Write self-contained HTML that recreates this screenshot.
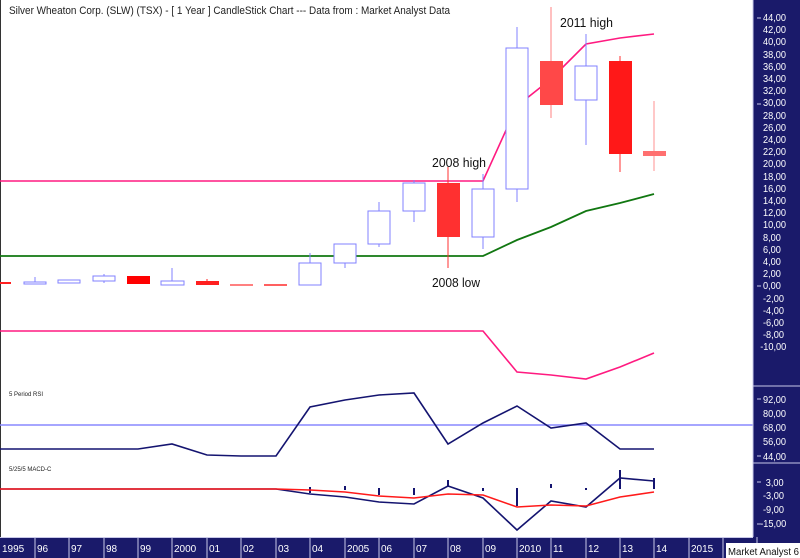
<!DOCTYPE html>
<html><head><meta charset="utf-8"><style>
html,body{margin:0;padding:0;background:#fff;}
svg{display:block;font-family:"Liberation Sans",Arial,sans-serif;}
</style></head><body>
<svg width="800" height="558" viewBox="0 0 800 558" xmlns="http://www.w3.org/2000/svg">
<rect x="0" y="0" width="800" height="558" fill="#fff"/>
<line x1="0.5" y1="0" x2="0.5" y2="537" stroke="#333" stroke-width="1"/>
<text x="9" y="14" font-size="11" fill="#222" textLength="441" lengthAdjust="spacingAndGlyphs">Silver Wheaton Corp. (SLW) (TSX) -  [ 1 Year ] CandleStick Chart --- Data from : Market Analyst Data</text>

<polyline points="0,181 483,181 517,106 551,79 586,44 620,38 654,34" fill="none" stroke="#ff1a80" stroke-width="1.6"/>
<polyline points="0,256 483,256 517,240 551,227 586,211 620,203 654,194" fill="none" stroke="#117711" stroke-width="1.8"/>

<g stroke-width="1">
<rect x="0" y="282" width="11" height="2" fill="#ff2020"/>
<line x1="35" y1="277" x2="35" y2="284" stroke="#8080ff"/><rect x="24" y="282" width="22" height="2" fill="#fff" stroke="#8080ff"/>
<rect x="58" y="280" width="22" height="3" fill="#fff" stroke="#8080ff"/>
<line x1="104" y1="274" x2="104" y2="283" stroke="#8080ff"/><rect x="93" y="276" width="22" height="5" fill="#fff" stroke="#8080ff"/>
<rect x="127" y="276" width="23" height="8" fill="#ff0000"/>
<line x1="172" y1="268" x2="172" y2="283" stroke="#8080ff"/><rect x="161" y="281" width="23" height="4" fill="#fff" stroke="#8080ff"/>
<line x1="207" y1="279" x2="207" y2="284" stroke="#ff2020"/><rect x="196" y="281" width="23" height="4" fill="#ff2020"/>
<rect x="230" y="284" width="23" height="2" fill="#ff8080"/>
<rect x="264" y="284" width="23" height="2" fill="#ff6060"/>
<line x1="310" y1="253" x2="310" y2="263" stroke="#8080ff"/><rect x="299" y="263" width="22" height="22" fill="#fff" stroke="#8080ff"/>
<line x1="345" y1="263" x2="345" y2="268" stroke="#8080ff"/><rect x="334" y="244" width="22" height="19" fill="#fff" stroke="#8080ff"/>
<line x1="379" y1="202" x2="379" y2="247" stroke="#8080ff"/><rect x="368" y="211" width="22" height="33" fill="#fff" stroke="#8080ff"/>
<line x1="414" y1="180" x2="414" y2="222" stroke="#8080ff"/><rect x="403" y="183" width="22" height="28" fill="#fff" stroke="#8080ff"/>
<line x1="448" y1="167" x2="448" y2="268" stroke="#ff3030"/><rect x="437" y="183" width="23" height="54" fill="#ff3030"/>
<line x1="483" y1="174" x2="483" y2="249" stroke="#8080ff"/><rect x="472" y="189" width="22" height="48" fill="#fff" stroke="#8080ff"/>
<line x1="517" y1="27" x2="517" y2="202" stroke="#8080ff"/><rect x="506" y="48" width="22" height="141" fill="#fff" stroke="#8080ff"/>
<line x1="551" y1="7" x2="551" y2="118" stroke="#ff8080"/><rect x="540" y="61" width="23" height="44" fill="#ff4848"/>
<line x1="586" y1="34" x2="586" y2="145" stroke="#8080ff"/><rect x="575" y="66" width="22" height="34" fill="#fff" stroke="#8080ff"/>
<line x1="620" y1="56" x2="620" y2="172" stroke="#ff3030"/><rect x="609" y="61" width="23" height="93" fill="#ff1818"/>
<line x1="654" y1="101" x2="654" y2="171" stroke="#ff9090"/><rect x="643" y="151" width="23" height="5" fill="#ff7070"/>
</g>

<text x="432" y="167" font-size="13" fill="#111" textLength="54" lengthAdjust="spacingAndGlyphs">2008 high</text>
<text x="432" y="287" font-size="13" fill="#111" textLength="48" lengthAdjust="spacingAndGlyphs">2008 low</text>
<text x="560" y="27" font-size="13" fill="#111" textLength="53" lengthAdjust="spacingAndGlyphs">2011 high</text>

<polyline points="0,331 483,331 517,372 551,375 586,379 620,367 654,353" fill="none" stroke="#ff1a80" stroke-width="1.6"/>

<text x="9" y="396" font-size="6" fill="#222">5 Period RSI</text>
<line x1="0" y1="425" x2="753" y2="425" stroke="#8888ff" stroke-width="1.5"/>
<polyline points="0,449 138,449 172,444 207,455 241,456 276,456 310,407 345,400 379,395 414,393 448,444 483,423 517,406 551,428 586,423 620,449 654,449" fill="none" stroke="#141470" stroke-width="1.6"/>

<text x="9" y="471" font-size="6" fill="#222">5/25/5 MACD-C</text>
<g stroke="#141470" stroke-width="2">
<line x1="310" y1="487" x2="310" y2="493"/>
<line x1="345" y1="486" x2="345" y2="490"/>
<line x1="379" y1="488" x2="379" y2="495"/>
<line x1="414" y1="488" x2="414" y2="495"/>
<line x1="448" y1="480" x2="448" y2="487"/>
<line x1="483" y1="488" x2="483" y2="491"/>
<line x1="517" y1="488" x2="517" y2="506"/>
<line x1="551" y1="484" x2="551" y2="488"/>
<line x1="586" y1="488" x2="586" y2="490"/>
<line x1="620" y1="470" x2="620" y2="489"/>
<line x1="654" y1="478" x2="654" y2="489"/>
</g>
<polyline points="0,489 276,489 310,494 345,497 379,502 414,504 448,486 483,498 517,530 551,501 586,507 620,478 654,481" fill="none" stroke="#141470" stroke-width="1.6"/>
<polyline points="0,489 276,489 310,490 345,492 379,496 414,498 448,494 483,495 517,507 551,505 586,506 620,497 654,492" fill="none" stroke="#ff1a1a" stroke-width="1.6"/>

<rect x="753" y="0" width="47" height="558" fill="#1a1a6a"/>
<g stroke="#c8c8e8" stroke-width="1">
<line x1="753" y1="386" x2="800" y2="386"/>
<line x1="753" y1="463" x2="800" y2="463"/>
<line x1="753" y1="0" x2="753" y2="537"/>
</g>
<g font-size="10" fill="#fff" stroke="none" transform="translate(763,0) scale(0.92,1) translate(-763,0)">
<text x="763" y="21">44,00</text><text x="763" y="33">42,00</text><text x="763" y="45">40,00</text>
<text x="763" y="58">38,00</text><text x="763" y="70">36,00</text><text x="763" y="82">34,00</text>
<text x="763" y="94">32,00</text><text x="763" y="106">30,00</text><text x="763" y="119">28,00</text>
<text x="763" y="131">26,00</text><text x="763" y="143">24,00</text><text x="763" y="155">22,00</text>
<text x="763" y="167">20,00</text><text x="763" y="180">18,00</text><text x="763" y="192">16,00</text>
<text x="763" y="204">14,00</text><text x="763" y="216">12,00</text><text x="763" y="228">10,00</text>
<text x="763" y="241">8,00</text><text x="763" y="253">6,00</text><text x="763" y="265">4,00</text>
<text x="763" y="277">2,00</text><text x="763" y="289">0,00</text><text x="763" y="302">-2,00</text>
<text x="763" y="314">-4,00</text><text x="763" y="326">-6,00</text><text x="763" y="338">-8,00</text>
<text x="760" y="350">-10,00</text>
<text x="763" y="403">92,00</text><text x="763" y="417">80,00</text><text x="763" y="431">68,00</text>
<text x="763" y="445">56,00</text><text x="763" y="460">44,00</text>
<text x="766" y="486">3,00</text><text x="763" y="499">-3,00</text><text x="763" y="513">-9,00</text>
<text x="760" y="527">-15,00</text>
</g>
<g stroke="#c8c8e8">
<line x1="757" y1="18" x2="761" y2="18"/><line x1="757" y1="104" x2="761" y2="104"/>
<line x1="757" y1="286" x2="761" y2="286"/><line x1="757" y1="399" x2="761" y2="399"/>
<line x1="757" y1="456" x2="761" y2="456"/><line x1="757" y1="482" x2="761" y2="482"/>
<line x1="757" y1="524" x2="761" y2="524"/>
</g>

<rect x="0" y="537" width="800" height="21" fill="#1a1a6a"/>
<line x1="0" y1="537.5" x2="753" y2="537.5" stroke="#c8c8e8"/>
<g stroke="#c8c8e8">
<line x1="35" y1="537" x2="35" y2="558"/><line x1="69" y1="537" x2="69" y2="558"/><line x1="104" y1="537" x2="104" y2="558"/>
<line x1="138" y1="537" x2="138" y2="558"/><line x1="172" y1="537" x2="172" y2="558"/><line x1="207" y1="537" x2="207" y2="558"/>
<line x1="241" y1="537" x2="241" y2="558"/><line x1="276" y1="537" x2="276" y2="558"/><line x1="310" y1="537" x2="310" y2="558"/>
<line x1="345" y1="537" x2="345" y2="558"/><line x1="379" y1="537" x2="379" y2="558"/><line x1="414" y1="537" x2="414" y2="558"/>
<line x1="448" y1="537" x2="448" y2="558"/><line x1="483" y1="537" x2="483" y2="558"/><line x1="517" y1="537" x2="517" y2="558"/>
<line x1="551" y1="537" x2="551" y2="558"/><line x1="586" y1="537" x2="586" y2="558"/><line x1="620" y1="537" x2="620" y2="558"/>
<line x1="654" y1="537" x2="654" y2="558"/><line x1="689" y1="537" x2="689" y2="558"/><line x1="723" y1="537" x2="723" y2="558"/>
<line x1="757" y1="537" x2="757" y2="558"/>
</g>
<g font-size="10" fill="#fff">
<text x="2" y="552">1995</text><text x="37" y="552">96</text><text x="71" y="552">97</text><text x="106" y="552">98</text>
<text x="140" y="552">99</text><text x="174" y="552">2000</text><text x="209" y="552">01</text><text x="243" y="552">02</text>
<text x="278" y="552">03</text><text x="312" y="552">04</text><text x="347" y="552">2005</text><text x="381" y="552">06</text>
<text x="416" y="552">07</text><text x="450" y="552">08</text><text x="485" y="552">09</text><text x="519" y="552">2010</text>
<text x="553" y="552">11</text><text x="588" y="552">12</text><text x="622" y="552">13</text><text x="656" y="552">14</text>
<text x="691" y="552">2015</text>
</g>
<rect x="726" y="543" width="74" height="15" fill="#fff"/>
<text x="728" y="555" font-size="10" fill="#111" textLength="71" lengthAdjust="spacingAndGlyphs">Market Analyst 6</text>
</svg>
</body></html>
